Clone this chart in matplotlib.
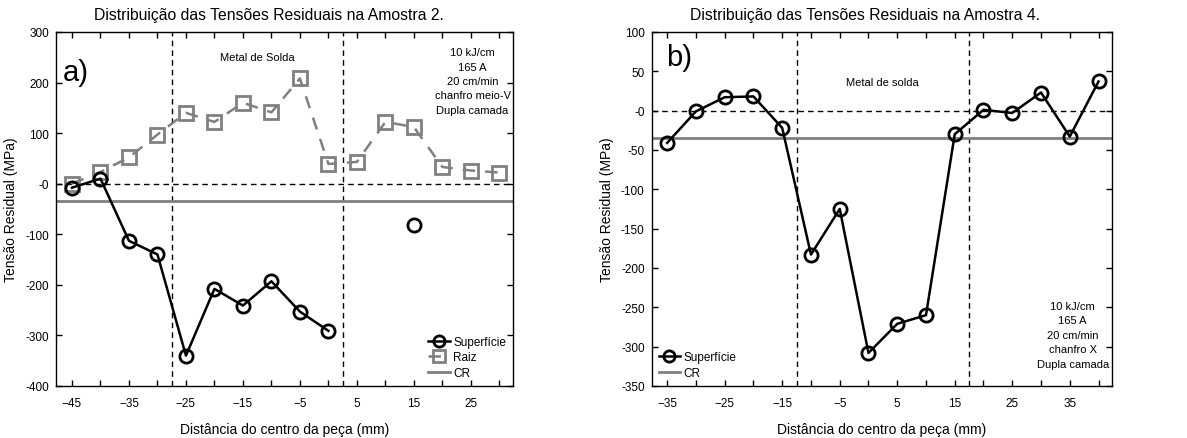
import numpy as np
import matplotlib
matplotlib.use('Agg')
import matplotlib.pyplot as plt

plt.rcParams['font.family'] = ['Liberation Sans', 'DejaVu Sans']

# Amostra 2
x_sup2 = [-45, -40, -35, -30, -25, -20, -15, -10, -5, 0, np.nan, 15]
y_sup2 = [-8, 10, -113, -140, -340, -208, -241, -193, -253, -291, np.nan, -82]
x_raiz2 = [-45, -40, -35, -30, -25, -20, -15, -10, -5, 0, 5, 10, 15, 20, 25, 30]
y_raiz2 = [0, 23, 52, 97, 140, 122, 160, 141, 208, 39, 43, 122, 112, 33, 26, 22]
solda2 = [-27.5, 2.5]

# Amostra 4
x_sup4 = [-35, -30, -25, -20, -15, -10, -5, 0, 5, 10, 15, 20, 25, 30, 35, 40]
y_sup4 = [-41, -1, 17, 18, -22, -183, -125, -308, -271, -260, -30, 1, -3, 23, -33, 37]
solda4 = [-12.5, 17.5]

cr = -35

fig = plt.figure(figsize=(11.87, 4.39), dpi=100)
ax1 = fig.add_axes([0.0472, 0.1185, 0.385, 0.8065])
ax2 = fig.add_axes([0.549, 0.1185, 0.3876, 0.8065])

mk = dict(marker='o', ms=9.5, mfc='none', mec='black', mew=2, color='black', lw=1.8)

# ---- a)
ax1.axhline(0, color='black', ls='--', lw=1, dashes=(4, 3))
for v in solda2:
    ax1.axvline(v, color='black', ls='--', lw=1, dashes=(4, 3))
ax1.axhline(cr, color='#808080', lw=2, label='CR', zorder=2)
ax1.plot(x_raiz2, y_raiz2, marker='s', ms=9.5, mfc='none', mec='#808080', mew=2,
         color='#808080', lw=1.8, ls='--', dashes=(5, 4), label='Raiz', zorder=3)
ax1.plot(x_sup2, y_sup2, label='Superfície', zorder=4, **mk)
ax1.set_xlim(-47.8, 32.4)
ax1.set_ylim(-400, 300)
ax1.set_xticks(np.arange(-45, 31, 10))
ax1.set_xticks(np.arange(-45, 33, 5), minor=True)
ax1.set_yticks(np.arange(-400, 301, 100))
ax1.set_yticklabels(['-400', '-300', '-200', '-100', '-0', '100', '200', '300'])
ax1.set_title('Distribuição das Tensões Residuais na Amostra 2.', fontsize=11.3, pad=9, x=0.466)
ax1.set_xlabel('Distância do centro da peça (mm)', fontsize=10, labelpad=9)
ax1.set_ylabel('Tensão Residual (MPa)', fontsize=10, labelpad=5)
ax1.text(-46.6, 220, 'a)', fontsize=21, ha='left', va='center')
ax1.text(-12.5, 250, 'Metal de Solda', fontsize=8, ha='center', va='center')
ax1.text(25.3, 203, '10 kJ/cm\n165 A\n20 cm/min\nchanfro meio-V\nDupla camada',
         fontsize=8, ha='center', va='center', linespacing=1.55)
h, l = ax1.get_legend_handles_labels()
order = [l.index('Superfície'), l.index('Raiz'), l.index('CR')]
ax1.legend([h[i] for i in order], [l[i] for i in order], loc='lower right',
           frameon=False, fontsize=8.5, handlelength=1.8, handletextpad=0.3,
           labelspacing=0.3, borderaxespad=0.2, markerscale=0.85)

# ---- b)
ax2.axhline(0, color='black', ls='--', lw=1, dashes=(4, 3))
for v in solda4:
    ax2.axvline(v, color='black', ls='--', lw=1, dashes=(4, 3))
ax2.axhline(cr, color='#808080', lw=2, label='CR', zorder=2)
ax2.plot(x_sup4, y_sup4, label='Superfície', zorder=4, **mk)
ax2.set_xlim(-37.7, 42.3)
ax2.set_ylim(-350, 100)
ax2.set_xticks(np.arange(-35, 36, 10))
ax2.set_xticks(np.arange(-35, 43, 5), minor=True)
ax2.set_yticks(np.arange(-350, 101, 50))
ax2.set_yticklabels(['-350', '-300', '-250', '-200', '-150', '-100', '-50', '-0', '50', '100'])
ax2.set_title('Distribuição das Tensões Residuais na Amostra 4.', fontsize=11.3, pad=9, x=0.464)
ax2.set_xlabel('Distância do centro da peça (mm)', fontsize=10, labelpad=9)
ax2.set_ylabel('Tensão Residual (MPa)', fontsize=10, labelpad=5)
ax2.text(-35.2, 68, 'b)', fontsize=21, ha='left', va='center')
ax2.text(2.5, 36, 'Metal de solda', fontsize=8, ha='center', va='center')
ax2.text(35.5, -285, '10 kJ/cm\n165 A\n20 cm/min\nchanfro X\nDupla camada',
         fontsize=8, ha='center', va='center', linespacing=1.55)
h, l = ax2.get_legend_handles_labels()
order = [l.index('Superfície'), l.index('CR')]
ax2.legend([h[i] for i in order], [l[i] for i in order], loc='lower left',
           frameon=False, fontsize=8.5, handlelength=1.8, handletextpad=0.3,
           labelspacing=0.3, borderaxespad=0.2, markerscale=0.85)

for ax in (ax1, ax2):
    ax.tick_params(which='both', direction='in', top=True, right=True, labelsize=8.5,
                   length=4, width=1)
    ax.tick_params(which='major', axis='y', pad=5)
    ax.tick_params(which='major', axis='x', pad=8)
    for s in ax.spines.values():
        s.set_linewidth(1)

fig.savefig('out.png', dpi=100)
